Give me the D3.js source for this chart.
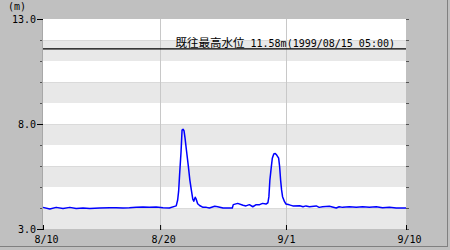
<!DOCTYPE html>
<html>
<head>
<meta charset="utf-8">
<script src="https://cdn.jsdelivr.net/npm/d3@7"></script>
<style>
  body { margin: 0; background: #fff; }
  text { font-family: "DejaVu Sans Mono", monospace; font-size: 10px; fill: #000; }
  .jp { font-family: "Noto Sans CJK JP", sans-serif; font-size: 11.5px; }
</style>
</head>
<body>
<script>
// hours since 8/10 00:00 and water level (m)
var hours = [0,14,27,41,55,68,82,96,116,137,150,164,177,191,205,218,232,246,259,273,
  276,278,280,283,285,287,289,291,294,298,301,304,307,309,312,314,317,321,328,335,
  341,352,358,369,378,388,390,399,410,416,423,430,437,444,450,457,461,463,465,468,
  470,473,476,479,483,485,487,489,491,495,498,505,512,526,533,539,546,560,566,573,
  587,601,607,614,628,642,655,669,683,696,710,724,744];
var level = [4.03,3.95,4.03,3.98,4.03,3.98,4.00,3.98,4.00,4.01,4.01,4.00,4.01,4.04,4.05,4.04,4.05,4.01,4.00,4.10,
  4.38,4.80,5.60,6.70,7.71,7.75,7.68,7.35,6.75,5.97,5.33,4.86,4.42,4.32,4.51,4.42,4.20,4.12,4.03,4.03,
  4.00,4.08,4.06,4.00,4.00,4.00,4.16,4.22,4.13,4.10,4.16,4.06,4.16,4.16,4.22,4.19,4.25,4.54,5.33,5.97,
  6.37,6.57,6.60,6.52,6.37,5.97,5.33,4.86,4.54,4.30,4.19,4.15,4.10,4.11,4.06,4.10,4.06,4.10,4.03,4.06,
  4.08,4.00,4.06,4.03,4.06,4.03,4.06,4.03,4.06,4.01,4.03,4.00,4.00];
var tickHours = [0, 240, 498, 744];
var tickLabels = ['8/10', '8/20', '9/1', '9/10'];
var gridHours = [240, 498];
var yLabelTicks = [13, 8, 3];
var yMinorTicks = [12, 11, 10, 9, 7, 6, 5, 4];
var recordLevel = 11.58;
var recordLabel = '既往最高水位';
var recordNote = ' 11.58m(1999/08/15 05:00)';

var W = 450, H = 250
  , margin = {top: 19, right: 44, bottom: 21, left: 43}
  , width = W - margin.left - margin.right
  , height = H - margin.top - margin.bottom;

var svgm = d3.select('body').append('svg').attr('width', W).attr('height', H);
svgm.append('rect').attr('width', W).attr('height', H).attr('fill', '#c0c0c0');
// outer 3d edge
svgm.append('line').attr('x1', 447.5).attr('x2', 447.5).attr('y1', 0).attr('y2', 247).attr('stroke', '#808080');
svgm.append('line').attr('x1', 0).attr('x2', 448).attr('y1', 246.5).attr('y2', 246.5).attr('stroke', '#808080');

var x = d3.scaleLinear().domain([0, 744]).range([0, width])
  , y = d3.scaleLinear().domain([3, 13]).range([height, 0]);

var svg = svgm.append('g').attr('transform', `translate(${margin.left},${margin.top})`);
svg.append('rect').attr('width', width).attr('height', height).attr('fill', '#fff');

// alternating bands
var bands = d3.range(3, 13).filter(function(v) { return (v - 3) % 2 == 0; });
svg.selectAll('.band').data(bands).enter().append('rect')
  .attr('x', 0).attr('width', width)
  .attr('y', function(d) { return y(d + 1); })
  .attr('height', function(d) { return y(d) - y(d + 1); })
  .attr('fill', '#e8e8e8');
svg.selectAll('.bandedge').data(bands).enter().append('line')
  .attr('x1', 0).attr('x2', width)
  .attr('y1', function(d) { return y(d + 1) + 0.5; }).attr('y2', function(d) { return y(d + 1) + 0.5; })
  .attr('stroke', '#dadada');

// vertical grid
svg.selectAll('.vgrid').data(gridHours).enter().append('line')
  .attr('x1', function(d) { return Math.round(x(d)) + 0.5; }).attr('x2', function(d) { return Math.round(x(d)) + 0.5; })
  .attr('y1', 0).attr('y2', height).attr('stroke', '#c8c8c8');

svg.append('line').attr('x1', -0.5).attr('x2', -0.5).attr('y1', 0).attr('y2', height).attr('stroke', '#a8a8a8');

// record level
svg.append('line').attr('x1', 0).attr('x2', width)
  .attr('y1', y(recordLevel)).attr('y2', y(recordLevel)).attr('stroke', '#000').attr('stroke-width', 1.3);
var rt = svg.append('text').attr('x', 352).attr('y', y(recordLevel) - 2).attr('text-anchor', 'end');
rt.append('tspan').attr('class', 'jp').text(recordLabel);
rt.append('tspan').text(recordNote);

// series
var datas = hours.map(function(h, i) { return {x: h, y: level[i]}; });
var line = d3.line().x(function(d) { return x(d.x); }).y(function(d) { return y(d.y); });
svg.append('path').datum(datas).attr('d', line).attr('fill', 'none')
  .attr('stroke', '#0000ff').attr('stroke-width', 1.5).attr('stroke-linejoin', 'round');

// y axis left
var yAxis = d3.axisLeft(y).tickValues(yLabelTicks).tickSize(6).tickPadding(1).tickFormat(d3.format('.1f'));
var gy = svg.append('g').call(yAxis);
gy.select('.domain').remove();
gy.selectAll('text').attr('font-family', null).attr('font-size', null);
svg.selectAll('.ytick').data(yMinorTicks).enter().append('line')
  .attr('x1', -3).attr('x2', -1).attr('y1', function(d) { return y(d) + 0.5; }).attr('y2', function(d) { return y(d) + 0.5; })
  .attr('stroke', '#555');
// y ticks right
svg.selectAll('.rtick').data(yMinorTicks.concat(yLabelTicks)).enter().append('line')
  .attr('x1', width).attr('x2', width + 3).attr('y1', function(d) { return y(d) + 0.5; }).attr('y2', function(d) { return y(d) + 0.5; })
  .attr('stroke', '#555');

// x axis
var xAxis = d3.axisBottom(x).tickValues(tickHours).tickSize(5).tickPadding(4)
  .tickFormat(function(d, i) { return tickLabels[i]; });
var gx = svg.append('g').attr('transform', `translate(0, ${height - 4})`).call(xAxis);
gx.select('.domain').remove();
gx.selectAll('text').attr('font-family', null).attr('font-size', null).attr('text-anchor', 'start').attr('dx', -9).attr('dy', '0.9em');

svgm.append('text').attr('x', 8).attr('y', 10).text('(m)');
</script>
</body>
</html>
